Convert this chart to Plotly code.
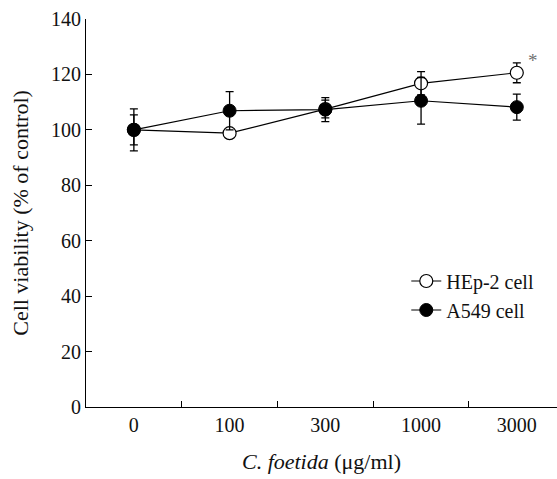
import plotly.graph_objects as go

categories = ["0", "100", "300", "1000", "3000"]
hep2_mean = [100.0, 98.8, 107.5, 116.8, 120.6]
hep2_err = [5.4, 0.0, 3.2, 4.2, 3.6]
a549_mean = [100.0, 106.9, 107.3, 110.5, 108.2]
a549_err = [7.6, 6.9, 4.3, 8.4, 4.7]
y_ticks = [0, 20, 40, 60, 80, 100, 120, 140]

xpos = list(range(len(categories)))
font_family = "Liberation Serif, Times New Roman, serif"

fig = go.Figure()
fig.add_trace(go.Scatter(
    x=xpos, y=hep2_mean, name="HEp-2 cell", mode="lines+markers",
    line=dict(color="black", width=1.2),
    marker=dict(symbol="circle", size=13, color="white", line=dict(color="black", width=1.2)),
    error_y=dict(type="data", array=hep2_err, color="black", thickness=1.3, width=4),
))
fig.add_trace(go.Scatter(
    x=xpos, y=a549_mean, name="A549 cell", mode="lines+markers",
    line=dict(color="black", width=1.2),
    marker=dict(symbol="circle", size=13, color="black", line=dict(color="black", width=1)),
    error_y=dict(type="data", array=a549_err, color="black", thickness=1.3, width=4),
))

fig.add_annotation(x=4, y=hep2_mean[4], text="*", showarrow=False,
                   xshift=16, yshift=12, font=dict(family=font_family, size=19, color="#707070"))

fig.update_layout(
    width=557, height=479,
    margin=dict(l=86, r=0, t=19, b=72),
    paper_bgcolor="white", plot_bgcolor="white",
    font=dict(family=font_family, size=21, color="#111111"),
    showlegend=True,
    legend=dict(x=0.68, y=0.375, xanchor="left", yanchor="top",
                bgcolor="rgba(0,0,0,0)", font=dict(family=font_family, size=20),
                itemwidth=30, tracegroupgap=0),
    xaxis=dict(
        range=[-0.5, 4.42], tickmode="array", tickvals=xpos, ticktext=categories,
        ticks="", showline=True, linecolor="black", linewidth=1.2, showgrid=False, zeroline=False,
        minor=dict(tickmode="array", tickvals=[0.5, 1.5, 2.5, 3.5], ticks="inside",
                   ticklen=6, tickcolor="black", tickwidth=1.2, showgrid=False),
        title=dict(text="<i>C. foetida</i> (μg/ml)", font=dict(family=font_family, size=22), standoff=18),
        tickfont=dict(family=font_family, size=20),
        automargin=False,
    ),
    yaxis=dict(
        range=[0, 140], tickmode="array", tickvals=y_ticks,
        ticks="inside", ticklen=6, tickcolor="black", tickwidth=1.2,
        showline=True, linecolor="black", linewidth=1.2, showgrid=False, zeroline=False,
        title=dict(text="Cell viability (% of control)", font=dict(family=font_family, size=22), standoff=16),
        tickfont=dict(family=font_family, size=20),
        automargin=False,
    ),
)

fig.write_html("out.html", config={"displayModeBar": False},
               post_script="document.body.style.margin='0px';document.body.style.overflow='hidden';")
